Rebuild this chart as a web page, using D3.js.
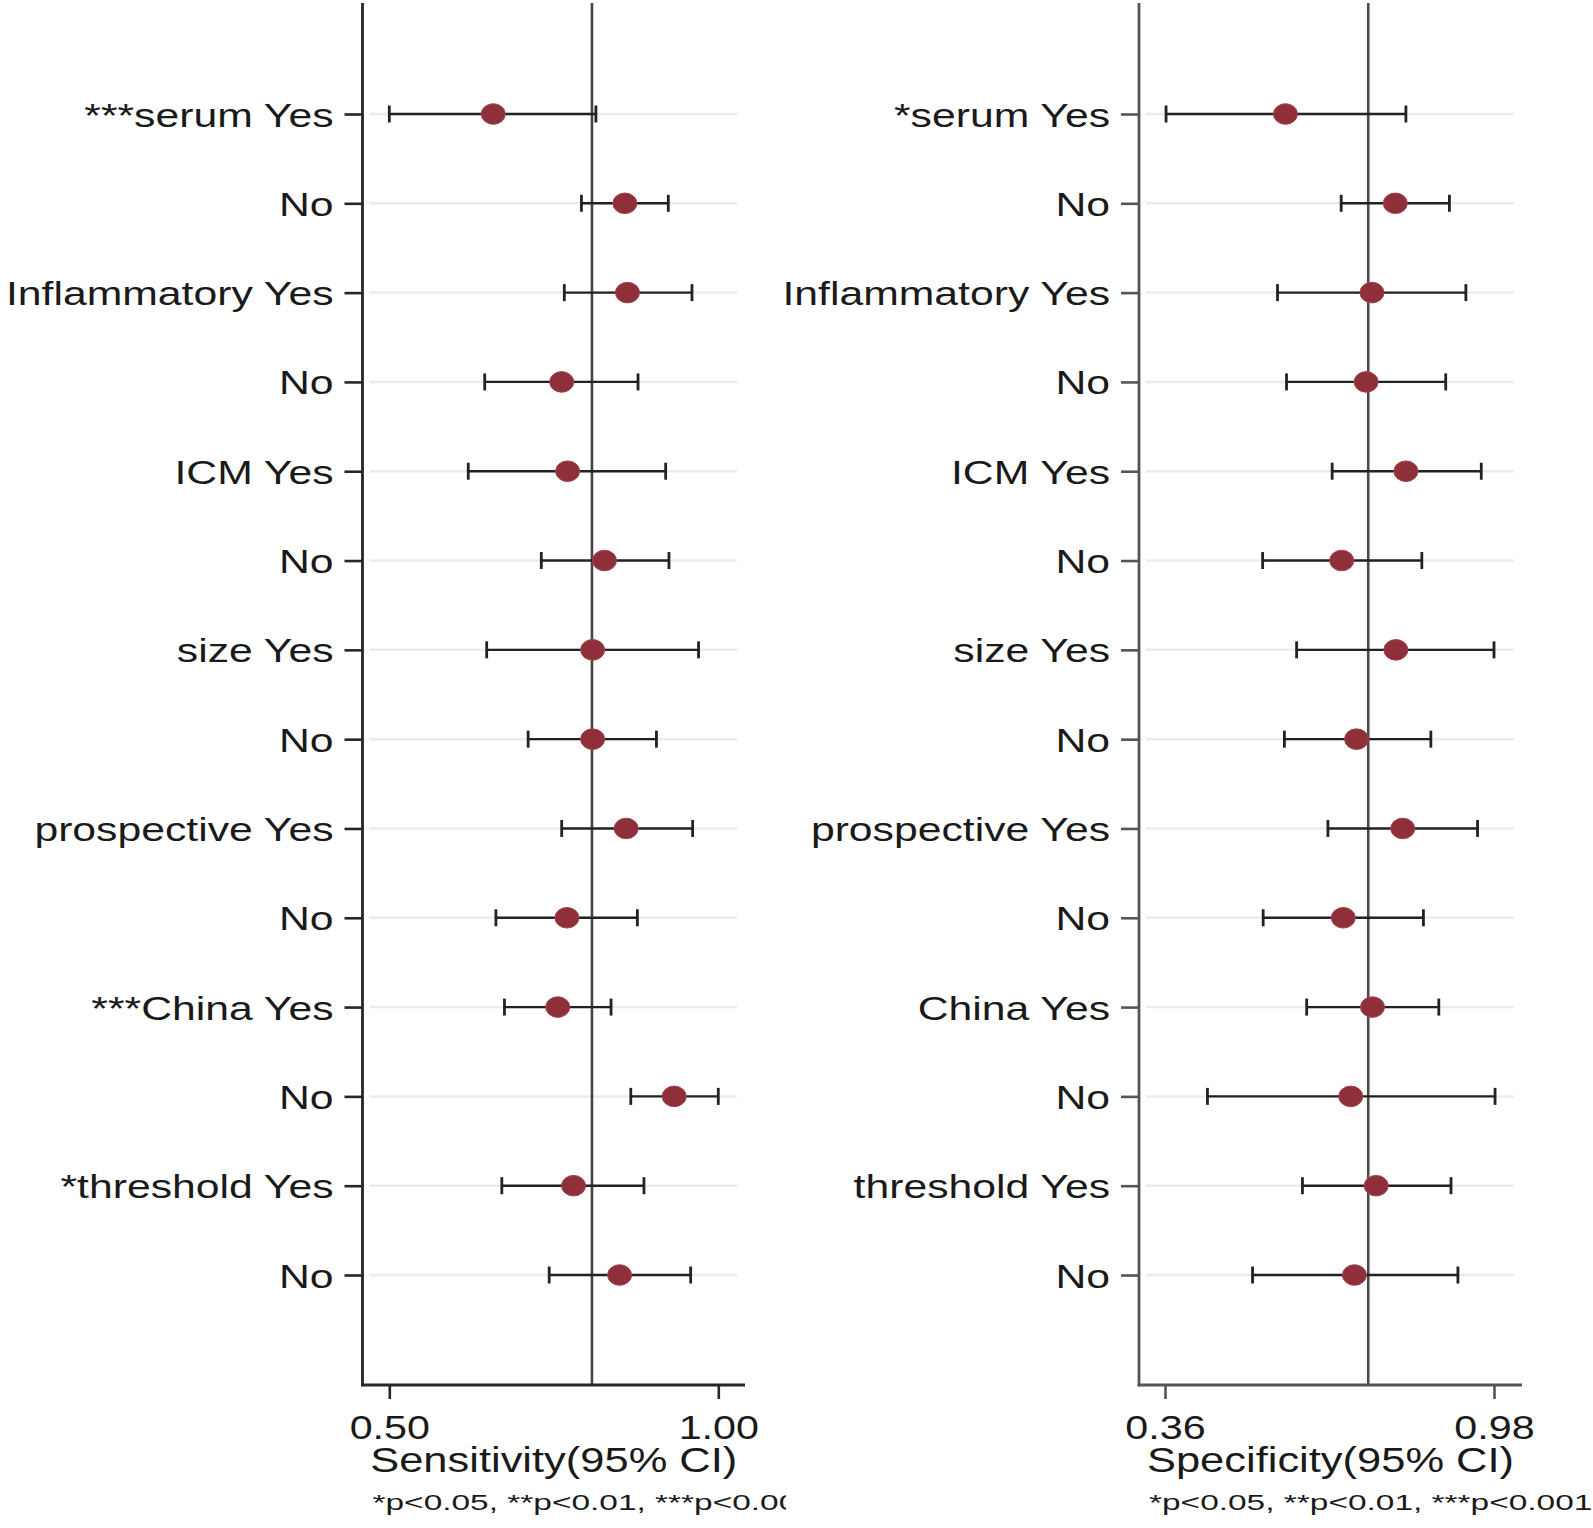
<!DOCTYPE html>
<html>
<head>
<meta charset="utf-8">
<script src="https://cdn.jsdelivr.net/npm/d3@7"></script>
<style>
  html, body { margin: 0; padding: 0; background: #ffffff; }
  svg { display: block; font-family: "Liberation Sans", Arial, sans-serif; }
</style>
</head>
<body>
<svg id="chart" width="1593" height="1528"></svg>
<script>
// ---------------- data ----------------
const rowIndex = [0,1,2,3,4,5,6,7,8,9,10,11,12,13];

const sensLabels = ["***serum Yes","No","Inflammatory Yes","No","ICM Yes","No","size Yes","No",
                    "prospective Yes","No","***China Yes","No","*threshold Yes","No"];
const specLabels = ["*serum Yes","No","Inflammatory Yes","No","ICM Yes","No","size Yes","No",
                    "prospective Yes","No","China Yes","No","threshold Yes","No"];

const sensEst = [0.658,0.858,0.862,0.762,0.771,0.827,0.809,0.809,0.860,0.770,0.756,0.933,0.780,0.850];
const sensLo  = [0.500,0.792,0.766,0.645,0.620,0.731,0.648,0.711,0.762,0.662,0.675,0.867,0.671,0.743];
const sensHi  = [0.814,0.924,0.960,0.878,0.920,0.925,0.970,0.906,0.961,0.877,0.837,1.000,0.887,0.958];

const specEst = [0.587,0.794,0.750,0.739,0.814,0.693,0.795,0.721,0.808,0.696,0.751,0.710,0.758,0.717];
const specLo  = [0.362,0.692,0.572,0.589,0.675,0.544,0.608,0.585,0.667,0.545,0.627,0.440,0.619,0.525];
const specHi  = [0.814,0.896,0.927,0.889,0.956,0.844,0.980,0.861,0.949,0.847,0.876,0.982,0.899,0.912];

const sensPooled = 0.808;
const specPooled = 0.743;

const sensTicks = [0.50, 1.00];
const specTicks = [0.36, 0.98];
const sensTickLabels = ["0.50","1.00"];
const specTickLabels = ["0.36","0.98"];

const sensTitle = "Sensitivity(95% CI)";
const specTitle = "Specificity(95% CI)";
const noteText = "*p<0.05, **p<0.01, ***p<0.001";

// ---------------- layout ----------------
const svg = d3.select("#chart");
const plotTop = 3, plotBottom = 1385;
const y = d3.scalePoint().domain(rowIndex).range([114, 1275]);

const markerColor = "#8f2f3a";
const textColor = "#1a1a1a";

const panels = [
  { labels: sensLabels, est: sensEst, lo: sensLo, hi: sensHi, pooled: sensPooled,
    ticks: sensTicks, tickLabels: sensTickLabels, title: sensTitle,
    left: 362.5, right: 745, t0: 389.3, t1: 718.3, axisColor: "#262626", refColor: "#444",
    noteClip: 786 },
  { labels: specLabels, est: specEst, lo: specLo, hi: specHi, pooled: specPooled,
    ticks: specTicks, tickLabels: specTickLabels, title: specTitle,
    left: 1139, right: 1522, t0: 1165, t1: 1494, axisColor: "#555", refColor: "#4a4a4a",
    noteClip: 1593 }
];

const labelSX = 1.31, labelFS = 32.6;
const tickSX = 1.25, tickFS = 33;
const titleSX = 1.26, titleFS = 34.5;
const noteSX = 1.52, noteFS = 22;

svg.append("defs").selectAll("clipPath").data(panels).join("clipPath")
  .attr("id", (d,i) => "noteclip" + i)
  .append("rect").attr("x", 0).attr("y", 1480).attr("width", d => d.noteClip).attr("height", 48);

panels.forEach((p, pi) => {
  const x = d3.scaleLinear().domain(p.ticks).range([p.t0, p.t1]);
  const g = svg.append("g");

  // gridlines
  g.append("g").selectAll("line").data(rowIndex).join("line")
    .attr("x1", p.left + 7).attr("x2", p.right - 8)
    .attr("y1", d => y(d)).attr("y2", d => y(d))
    .attr("stroke", "#ececec").attr("stroke-width", 2.5);

  // reference line
  g.append("line")
    .attr("x1", x(p.pooled)).attr("x2", x(p.pooled))
    .attr("y1", plotTop).attr("y2", plotBottom)
    .attr("stroke", p.refColor).attr("stroke-width", 2.6);

  // y axis (left)
  const yAxis = d3.axisLeft(y).tickSize(18).tickPadding(11)
    .tickFormat(i => p.labels[i]);
  const ya = g.append("g").attr("transform", `translate(${p.left},0)`).call(yAxis);
  ya.select(".domain").remove();
  ya.selectAll(".tick line").attr("stroke", p.axisColor).attr("stroke-width", 2.6);
  ya.selectAll(".tick text")
    .attr("fill", textColor).attr("font-size", labelFS)
    .attr("font-family", "'Liberation Sans', Arial, sans-serif")
    .attr("dy", null).attr("y", 12)
    .attr("x", -(18 + 11) / labelSX)
    .attr("transform", `scale(${labelSX},1)`);
  g.append("line")
    .attr("x1", p.left).attr("x2", p.left)
    .attr("y1", plotTop).attr("y2", plotBottom + 1.3)
    .attr("stroke", p.axisColor).attr("stroke-width", 2.8);

  // x axis (bottom)
  const xAxis = d3.axisBottom(x).tickValues(p.ticks).tickSize(14).tickPadding(0)
    .tickFormat((d, i) => p.tickLabels[i]);
  const xa = g.append("g").attr("transform", `translate(0,${plotBottom})`).call(xAxis);
  xa.select(".domain").remove();
  xa.selectAll(".tick line").attr("stroke", p.axisColor).attr("stroke-width", 2.6);
  xa.selectAll(".tick text")
    .attr("fill", textColor).attr("font-size", tickFS)
    .attr("font-family", "'Liberation Sans', Arial, sans-serif")
    .attr("dy", null).attr("y", 54).attr("x", 0)
    .attr("transform", `scale(${tickSX},1)`);
  g.append("line")
    .attr("x1", p.left - 1.4).attr("x2", p.right)
    .attr("y1", plotBottom).attr("y2", plotBottom)
    .attr("stroke", p.axisColor).attr("stroke-width", 2.8);

  // CI bars
  const bars = g.append("g").selectAll("g").data(rowIndex).join("g");
  bars.append("line")
    .attr("x1", i => x(p.lo[i])).attr("x2", i => x(p.hi[i]))
    .attr("y1", i => y(i)).attr("y2", i => y(i))
    .attr("stroke", "#222").attr("stroke-width", 2.4);
  bars.append("line")
    .attr("x1", i => x(p.lo[i])).attr("x2", i => x(p.lo[i]))
    .attr("y1", i => y(i) - 8.5).attr("y2", i => y(i) + 8.5)
    .attr("stroke", "#222").attr("stroke-width", 2.8);
  bars.append("line")
    .attr("x1", i => x(p.hi[i])).attr("x2", i => x(p.hi[i]))
    .attr("y1", i => y(i) - 8.5).attr("y2", i => y(i) + 8.5)
    .attr("stroke", "#222").attr("stroke-width", 2.8);

  // points
  g.append("g").selectAll("ellipse").data(rowIndex).join("ellipse")
    .attr("cx", i => x(p.est[i])).attr("cy", i => y(i))
    .attr("rx", 12).attr("ry", 10.3)
    .attr("fill", markerColor).attr("stroke", "#a0434c").attr("stroke-width", 1);

  // axis title
  const cx = (p.left + p.right) / 2;
  g.append("text")
    .attr("transform", `translate(${cx},1472) scale(${titleSX},1)`)
    .attr("text-anchor", "middle").attr("font-size", titleFS).attr("fill", textColor)
    .text(p.title);

  // note
  g.append("g").attr("clip-path", `url(#noteclip${pi})`)
    .append("text")
    .attr("transform", `translate(${p.left + 10},1510) scale(${noteSX},1)`)
    .attr("text-anchor", "start").attr("font-size", noteFS).attr("fill", textColor)
    .text(noteText);
});
</script>
</body>
</html>
